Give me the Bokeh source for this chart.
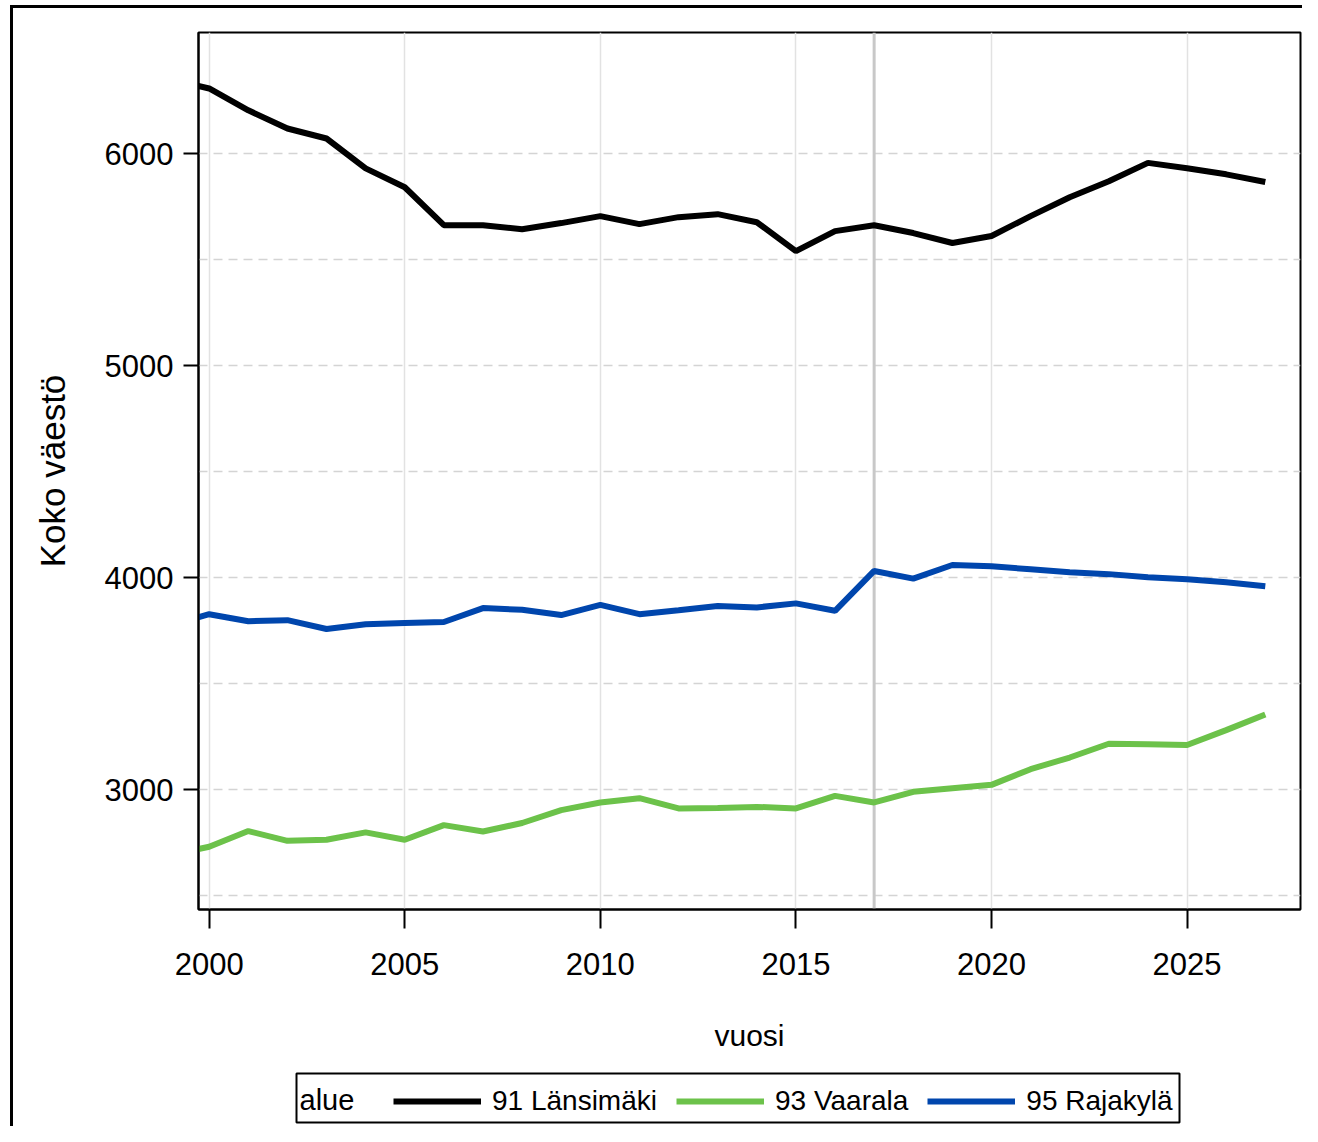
from bokeh.plotting import figure
from bokeh.layouts import column
from bokeh.models import (Range1d, FixedTicker, Span, Legend, LegendItem,
                          InlineStyleSheet, BoxAnnotation, Label)
from bokeh.embed import file_html
from bokeh.resources import INLINE

years = list(range(1999, 2028))
lansimaki = [6350, 6307, 6204, 6118, 6071, 5930, 5841, 5662, 5662, 5643, 5672,
             5705, 5667, 5700, 5714, 5676, 5540, 5634, 5662, 5625, 5578, 5611,
             5705, 5794, 5869, 5956, 5931, 5902, 5866]
vaarala = [2690, 2730, 2804, 2758, 2763, 2798, 2763, 2832, 2802, 2842, 2903,
           2939, 2959, 2911, 2913, 2918, 2911, 2970, 2939, 2989, 3006, 3022,
           3096, 3151, 3216, 3213, 3210, 3280, 3354]
rajakyla = [3776, 3827, 3794, 3799, 3757, 3780, 3785, 3790, 3856, 3848, 3823,
            3871, 3827, 3846, 3866, 3859, 3878, 3843, 4031, 3995, 4059, 4053,
            4039, 4025, 4016, 4001, 3992, 3978, 3959]
series_names = ["91 Länsimäki", "93 Vaarala", "95 Rajakylä"]
series_colors = ["#000000", "#6cc24a", "#0046ad"]
legend_title = "alue"
x_label = "vuosi"
y_label = "Koko väestö"
x_ticks = [2000, 2005, 2010, 2015, 2020, 2025]
y_ticks = [3000, 4000, 5000, 6000]
y_grid = [2500, 3000, 3500, 4000, 4500, 5000, 5500, 6000]
ref_year = 2017

FONT = "'Liberation Sans', Arial, sans-serif"
W = 1302
H_MAIN = 1060
H_LEG = 66
FRAME_L = 198
FRAME_R = 1300

p = figure(width=W, height=H_MAIN, output_backend="svg", toolbar_location=None,
           x_range=Range1d(1999.727, 2027.9), y_range=Range1d(2434, 6571),
           min_border_left=FRAME_L, min_border_top=32, min_border_right=W - FRAME_R,
           min_border_bottom=151)

p.outline_line_color = "black"
p.outline_line_width = 2
p.background_fill_color = "white"
p.border_fill_color = "white"

# grids
p.xgrid.ticker = FixedTicker(ticks=x_ticks)
p.xgrid.grid_line_color = "#e2e2e2"
p.xgrid.grid_line_width = 1.5
p.ygrid.ticker = FixedTicker(ticks=y_grid)
p.ygrid.grid_line_color = "#d4d4d4"
p.ygrid.grid_line_width = 1.5
p.ygrid.grid_line_dash = "9 6"

# axes
p.xaxis.ticker = FixedTicker(ticks=x_ticks, minor_ticks=[])
p.yaxis.ticker = FixedTicker(ticks=y_ticks, minor_ticks=[])
for ax in (p.xaxis, p.yaxis):
    ax.axis_line_color = "black"
    ax.axis_line_width = 2
    ax.major_tick_line_color = "black"
    ax.major_tick_line_width = 2
    ax.major_tick_in = 0
    ax.minor_tick_line_color = None
    ax.major_label_text_font = FONT
    ax.major_label_text_font_size = "31px"
    ax.major_label_text_color = "black"
    ax.axis_label_text_font_style = "normal"
    ax.axis_label_text_color = "black"
    ax.axis_label_text_font = FONT
p.xaxis.major_tick_out = 19
p.xaxis.major_label_standoff = 24
p.yaxis.major_tick_out = 15
p.yaxis.major_label_standoff = 10
p.xaxis.axis_label = x_label
p.xaxis.axis_label_text_font_size = "30px"
p.xaxis.axis_label_standoff = 41
p.yaxis.axis_label = y_label
p.yaxis.axis_label_text_font_size = "35px"
p.yaxis.axis_label_standoff = 30

span = Span(location=ref_year, dimension="height", line_color="#c8c8c8",
            line_width=3, level="underlay")
p.add_layout(span)

series_values = [lansimaki, vaarala, rajakyla]
for vals, col in zip(series_values, series_colors):
    p.line(years, vals, line_color=col, line_width=6)

# ---- legend strip (separate canvas under the plot; its frame aligns with the plot's) ----
q = figure(width=W, height=H_LEG, output_backend="svg", toolbar_location=None,
           x_range=Range1d(FRAME_L, FRAME_R), y_range=Range1d(0, H_LEG),
           x_axis_location=None, y_axis_location=None, min_border=0,
           min_border_left=FRAME_L, min_border_right=W - FRAME_R)
q.outline_line_color = None
q.xgrid.visible = False
q.ygrid.visible = False
q.background_fill_color = "white"
q.border_fill_color = "white"

q.add_layout(BoxAnnotation(left=296, right=1179, bottom=4, top=53,
                           fill_color="white", fill_alpha=1,
                           line_color="black", line_alpha=1, line_width=2,
                           level="underlay"))
q.add_layout(Label(x=299, y=27, text=legend_title, text_font=FONT,
                   text_font_size="29px", text_color="black",
                   text_baseline="middle", text_align="left"))

# legend key renderers: the same series, which fall outside this strip's ranges
leg_renderers = [q.line(years, vals, line_color=c, line_width=6)
                 for vals, c in zip(series_values, series_colors)]
items = [LegendItem(label=n, renderers=[r]) for n, r in zip(series_names, leg_renderers)]
legend = Legend(items=items, location=(393 - FRAME_L, 5), orientation="horizontal")
legend.border_line_color = None
legend.background_fill_alpha = 0
legend.label_text_font = FONT
legend.label_text_font_size = "28px"
legend.label_text_color = "black"
legend.glyph_width = 88
legend.glyph_height = 40
legend.label_standoff = 11
legend.spacing = 19
legend.padding = 4
legend.margin = 0
q.add_layout(legend)

layout = column(p, q, spacing=0)
layout.stylesheets = [InlineStyleSheet(css="""
:host { position: relative; }
:host::after {
  content: ""; position: absolute; left: 10px; top: 5px; right: 0; bottom: 0;
  border-left: 3px solid #000; border-top: 3px solid #000;
  pointer-events: none; z-index: 10;
}
""")]

open("out.html", "w").write(file_html(layout, INLINE))
